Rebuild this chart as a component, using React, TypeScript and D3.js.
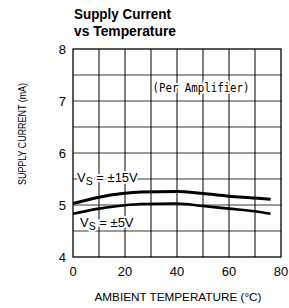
import React from "react";
import * as d3 from "d3";

const temps15 = [0, 10, 19, 26, 40, 50, 60, 70, 76];
const vals15 = [5.03, 5.15, 5.22, 5.25, 5.26, 5.22, 5.17, 5.135, 5.11];
const temps5 = [0, 10, 19, 26, 40, 50, 60, 70, 76];
const vals5 = [4.83, 4.93, 4.99, 5.02, 5.03, 4.98, 4.93, 4.88, 4.83];
const xTicks = [0, 20, 40, 60, 80];
const yTicks = [4, 5, 6, 7, 8];
const xGrid = [10, 20, 30, 40, 50, 60, 70];
const yGrid = [4.5, 5, 5.5, 6, 6.5, 7, 7.5];

export default function App() {
  const x = d3.scaleLinear().domain([0, 80]).range([73, 281]);
  const y = d3.scaleLinear().domain([4, 8]).range([257, 49]);
  const line = d3
    .line<[number, number]>()
    .x((d) => x(d[0]))
    .y((d) => y(d[1]))
    .curve(d3.curveMonotoneX);
  const d15 = line(temps15.map((t, i) => [t, vals15[i]]) as [number, number][]);
  const d5 = line(temps5.map((t, i) => [t, vals5[i]]) as [number, number][]);
  const mono = "'DejaVu Sans Mono', monospace";
  const sans = "'Liberation Sans', Arial, sans-serif";
  const halo = { paintOrder: "stroke" as const, stroke: "#fff", strokeWidth: 4, strokeLinejoin: "round" as const };
  return (
    <svg width={289} height={308} style={{ position: "absolute", left: 0, top: 0 }}>
      <rect width={289} height={308} fill="#fff" />
      <text x={74} y={19} fontFamily={sans} fontWeight="bold" fontSize={14} textLength={97} lengthAdjust="spacingAndGlyphs">
        Supply Current
      </text>
      <text x={74} y={36} fontFamily={sans} fontWeight="bold" fontSize={14} textLength={102} lengthAdjust="spacingAndGlyphs">
        vs Temperature
      </text>
      {yGrid.map((v) => (
        <line key={"h" + v} x1={73} x2={281} y1={y(v)} y2={y(v)} stroke="#7a7a7a" strokeWidth={1.3} />
      ))}
      {xGrid.map((v) => (
        <line key={"v" + v} x1={x(v)} x2={x(v)} y1={49} y2={257} stroke="#000" strokeWidth={1} />
      ))}
      <rect x={73} y={49} width={208} height={208} fill="none" stroke="#000" strokeWidth={1.3} />
      <text x={201} y={92} textAnchor="middle" fontFamily={mono} fontSize={12} textLength={97} lengthAdjust="spacingAndGlyphs" {...halo}>
        (Per Amplifier)
      </text>
      <path d={d15 || ""} fill="none" stroke="#000" strokeWidth={3} />
      <path d={d5 || ""} fill="none" stroke="#000" strokeWidth={2.6} />
      <text x={77} y={182} fontFamily={sans} fontSize={13} {...halo}>
        V<tspan fontSize={10.5} dy={3}>S</tspan>
        <tspan dy={-3}> = ±15V</tspan>
      </text>
      <text x={80} y={227} fontFamily={sans} fontSize={13} {...halo}>
        V<tspan fontSize={10.5} dy={3}>S</tspan>
        <tspan dy={-3}> = ±5V</tspan>
      </text>
      {yTicks.map((v) => (
        <text key={"yt" + v} x={66} y={y(v) + 4.5} textAnchor="end" fontFamily={sans} fontSize={13}>
          {v}
        </text>
      ))}
      {xTicks.map((v) => (
        <text key={"xt" + v} x={x(v)} y={276} textAnchor="middle" fontFamily={sans} fontSize={13}>
          {v}
        </text>
      ))}
      <text x={178} y={301} textAnchor="middle" fontFamily={sans} fontSize={11.5} textLength={167} lengthAdjust="spacingAndGlyphs">
        AMBIENT TEMPERATURE (°C)
      </text>
      <text
        transform="translate(25.5,134) rotate(-90)"
        textAnchor="middle"
        fontFamily={sans}
        fontSize={11}
        textLength={102}
        lengthAdjust="spacingAndGlyphs"
      >
        SUPPLY CURRENT (mA)
      </text>
    </svg>
  );
}
